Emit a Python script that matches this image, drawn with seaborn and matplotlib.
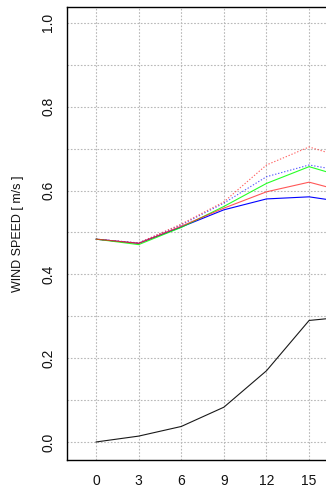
import matplotlib
matplotlib.use("Agg")
import matplotlib.pyplot as plt
import numpy as np
import pandas as pd
import seaborn as sns

# Forecast lead hours and wind speed series
hours = [0, 3, 6, 9, 12, 15, 18]
obs_black = [0.0, 0.014, 0.037, 0.083, 0.170, 0.290, 0.300]
red_solid = [0.484, 0.474, 0.515, 0.558, 0.597, 0.620, 0.593]
blue_solid = [0.484, 0.474, 0.513, 0.554, 0.580, 0.585, 0.570]
green_solid = [0.484, 0.471, 0.512, 0.562, 0.617, 0.657, 0.627]
red_dotted = [0.484, 0.475, 0.520, 0.573, 0.661, 0.704, 0.673]
blue_dotted = [0.484, 0.475, 0.518, 0.570, 0.633, 0.661, 0.643]

y_ticks = [0.0, 0.2, 0.4, 0.6, 0.8, 1.0]
x_ticks = [0, 3, 6, 9, 12, 15]

sns.set_style("white")
plt.rcParams["font.family"] = ["Liberation Sans", "DejaVu Sans"]

fig = plt.figure(figsize=(3.26, 4.91), dpi=100)
ax = fig.add_axes([67 / 326, 31 / 491, 370 / 326, 453 / 491])

df = pd.DataFrame({"hour": hours})
dots = (0, (1.2, 1.6))
series = [
    (blue_solid, "#0000ff", "-", 1.0),
    (blue_dotted, "#2020ff", dots, 0.75),
    (red_dotted, "#ff3030", dots, 0.75),
    (green_solid, "#00ff00", "-", 0.85),
    (red_solid, "#ff2020", "-", 0.75),
    (obs_black, "#000000", "-", 0.9),
]
for vals, color, ls, a in series:
    sns.lineplot(x=df["hour"], y=vals, ax=ax, color=color, linestyle=ls,
                 linewidth=0.8, alpha=a)

ax.set_xlim(-2.04, 24)
ax.set_ylim(-0.043, 1.038)

ax.set_xticks(x_ticks)
ax.set_xticklabels([str(v) for v in x_ticks])
ax.set_yticks(y_ticks)
ax.set_yticklabels([f"{v:.1f}" for v in y_ticks], rotation=90, va="center")

grid_kw = dict(color="#b8b8b8", linestyle=(0, (1.5, 1.5)), linewidth=0.8, zorder=0)
for yv in np.arange(0.0, 1.01, 0.1):
    ax.axhline(yv, **grid_kw)
for xv in range(0, 25, 3):
    ax.axvline(xv, **grid_kw)

ax.spines["right"].set_visible(False)
for side in ["left", "bottom", "top"]:
    ax.spines[side].set_color("#000000")
    ax.spines[side].set_linewidth(1.0)

ax.tick_params(axis="both", direction="out", length=5, width=0.8,
               color="#444444", labelsize=10, labelcolor="#111111")
ax.tick_params(axis="y", pad=3.6)
ax.tick_params(axis="x", pad=5.3)

ax.set_xlabel("")
ax.set_ylabel("")
fig.text(18 / 326, 1 - 233.5 / 491, "WIND SPEED [ m/s ]", rotation=90,
         ha="center", va="center", fontsize=9, color="#111111")

fig.savefig("out.png", dpi=100)
